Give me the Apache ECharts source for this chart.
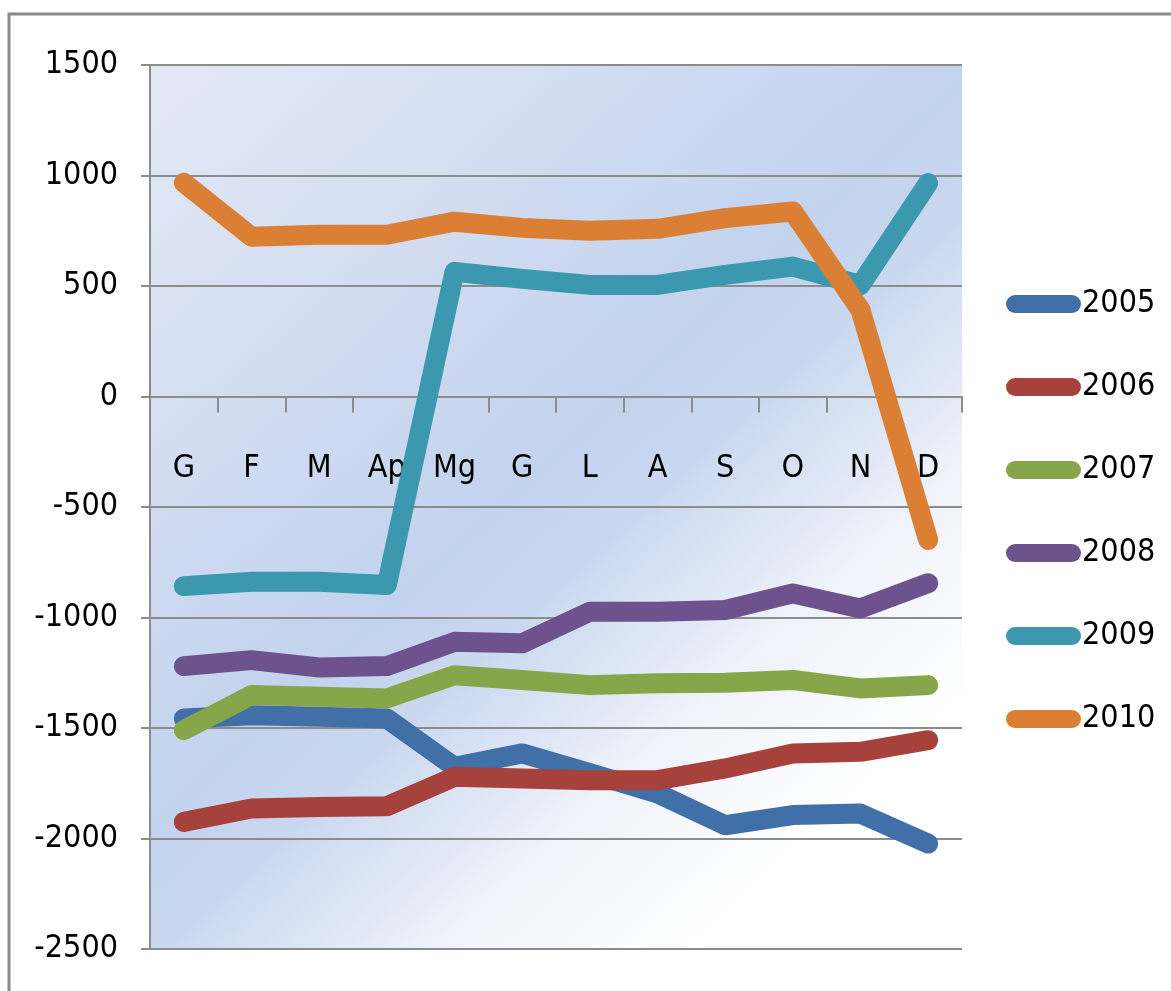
<!DOCTYPE html>
<html>
<head>
<meta charset="utf-8">
<script src="https://cdn.jsdelivr.net/npm/echarts@6/dist/echarts.min.js"></script>
<style>
html,body{margin:0;padding:0;background:#fff;}
#chart{width:1171px;height:991px;}
</style>
</head>
<body>
<div id="chart"></div>
<script>
var categories = ['G','F','M','Ap','Mg','G','L','A','S','O','N','D'];
var yTicks = [-2500, 1500, 500];
var seriesNames = ['2005','2006','2007','2008','2009','2010'];
var s2005 = [-1457,-1442,-1449,-1457,-1676,-1615,-1704,-1796,-1940,-1894,-1887,-2023];
var s2006 = [-1925,-1864,-1858,-1854,-1721,-1728,-1736,-1736,-1683,-1615,-1608,-1555];
var s2007 = [-1510,-1351,-1359,-1366,-1261,-1283,-1306,-1298,-1295,-1283,-1321,-1306];
var s2008 = [-1220,-1193,-1226,-1220,-1110,-1117,-974,-974,-966,-891,-959,-845];
var s2009 = [-858,-838,-838,-853,564,532,505,505,550,588,505,966];
var s2010 = [967,723,732,732,791,763,750,759,807,837,392,-649];
var seriesData = [s2005,s2006,s2007,s2008,s2009,s2010];
var colors = ['#4170a8','#a7413c','#86a649','#6e528d','#3c98ae','#db7f35'];

var FONT = '"DejaVu Sans Condensed","Liberation Sans",sans-serif';
var FS = 32;

var chart = echarts.init(document.getElementById('chart'), null, {renderer:'canvas'});
var series = seriesNames.map(function(name, i){
  return {
    name: name,
    type: 'line',
    xAxisIndex: 0,
    z: 3,
    data: seriesData[i],
    showSymbol: false,
    symbol: 'none',
    color: colors[i],
    lineStyle: {width: 20, color: colors[i], cap: 'round', join: 'round'},
    animation: false
  };
});

var axisGray = '#8c8c8c';

chart.setOption({
  animation: false,
  graphic: [{
    type: 'rect',
    z: 100,
    shape: {x: 9, y: 14, width: 1400, height: 1200},
    style: {fill: 'none', stroke: '#8a8a8a', lineWidth: 3}
  }],
  grid: {
    left: 150, top: 65, right: 209, bottom: 42,
    outerBoundsMode: 'none',
    show: true,
    borderWidth: 0,
    backgroundColor: {
      type: 'linear', x: 0, y: 0, x2: 1, y2: 1,
      colorStops: [
        {offset: 0, color: '#e3e9f5'},
        {offset: 0.25, color: '#d3ddf1'},
        {offset: 0.47, color: '#c2d3ee'},
        {offset: 0.55, color: '#cad8ef'},
        {offset: 0.7, color: '#eef2fa'},
        {offset: 0.85, color: '#ffffff'},
        {offset: 1, color: '#ffffff'}
      ]
    }
  },
  legend: {
    orient: 'vertical',
    left: 1006,
    top: 288,
    padding: 0,
    itemWidth: 75,
    itemHeight: 18,
    itemGap: 51,
    itemStyle: {borderWidth: 0},
    icon: 'path://M9,0 H66 A9,9 0 0 1 66,18 H9 A9,9 0 0 1 9,0 Z',
    textStyle: {fontFamily: FONT, fontSize: FS, color: '#000', padding: [0,0,0,-4]},
    data: seriesNames
  },
  xAxis: [{
    type: 'category',
    data: categories,
    boundaryGap: true,
    axisLine: {onZero: true, lineStyle: {color: axisGray, width: 2}},
    axisTick: {show: true, length: 16, lineStyle: {color: axisGray, width: 2}},
    axisLabel: {show: false},
    splitLine: {show: false}
  }, {
    type: 'category',
    data: categories,
    boundaryGap: true,
    position: 'bottom',
    offset: -553,
    z: 0,
    axisLine: {show: false, onZero: false},
    axisTick: {show: false},
    axisLabel: {show: true, margin: 57, fontFamily: FONT, fontSize: FS, color: '#000', interval: 0, hideOverlap: false},
    splitLine: {show: false}
  }],
  yAxis: {
    type: 'value',
    min: yTicks[0], max: yTicks[1], interval: yTicks[2],
    axisLine: {show: true, lineStyle: {color: axisGray, width: 2}},
    axisTick: {show: true, length: 9, lineStyle: {color: axisGray, width: 2}},
    axisLabel: {margin: 32, fontFamily: FONT, fontSize: FS, color: '#000', formatter: function(v){ return String(v); }},
    splitLine: {show: true, lineStyle: {color: axisGray, width: 2}}
  },
  series: series
});
</script>
</body>
</html>
